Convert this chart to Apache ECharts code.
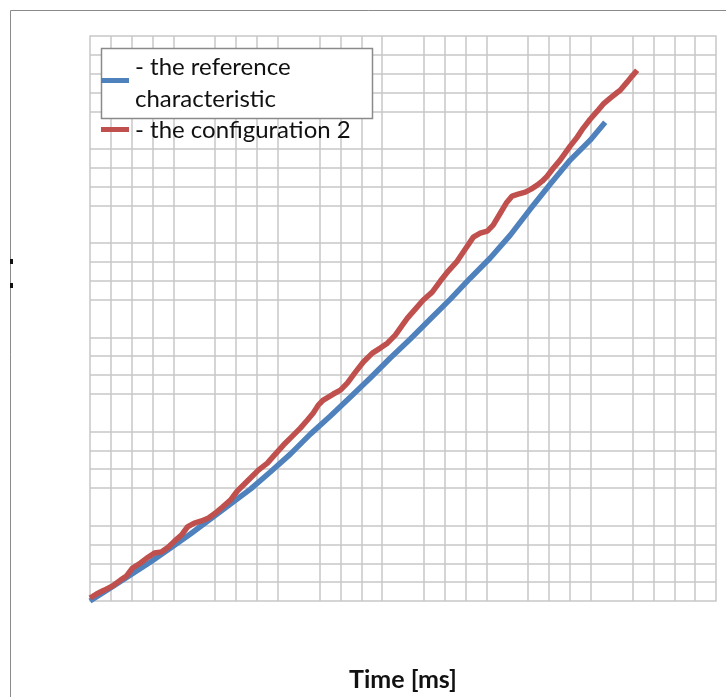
<!DOCTYPE html>
<html>
<head>
<meta charset="utf-8">
<script src="https://cdn.jsdelivr.net/npm/echarts@6/dist/echarts.min.js"></script>
<style>
    html, body { margin: 0; padding: 0; background: #fff; }
    #chart { width: 726px; height: 697px; }
</style>
</head>
<body>
<div id="chart"></div>
<script>
// series values (grid units, 30 x 30 minor cells)
var refX = [0, 0.98, 1.94, 2.90, 3.86, 4.81, 5.77, 6.73, 7.69, 8.64, 9.60, 10.56, 11.52, 12.48, 13.43,
    14.39, 15.35, 16.31, 17.27, 18.22, 19.18, 20.14, 21.10, 22.05, 23.01, 23.97, 24.69];
var refY = [0, 0.69, 1.38, 2.07, 2.81, 3.56, 4.35, 5.15, 5.94, 6.85, 7.80, 8.86, 9.82, 10.83, 11.84,
    12.90, 13.91, 14.97, 16.03, 17.14, 18.21, 19.43, 20.81, 22.13, 23.41, 24.47, 25.42];

var cfgX = [0, 0.31, 0.69, 1.08, 1.46, 1.75, 2.04, 2.42, 2.80, 3.09, 3.42, 3.76, 4.05, 4.38, 4.67,
    5.00, 5.34, 5.68, 6.01, 6.35, 6.73, 7.06, 7.40, 7.69, 8.07, 8.50, 8.88, 9.27, 9.65, 10.08,
    10.42, 10.70, 10.94, 11.18, 11.66, 12.00, 12.33, 12.72, 13.10, 13.53, 13.91, 14.25, 14.63, 14.97,
    15.21, 15.59, 15.97, 16.40, 16.79, 17.17, 17.60, 17.98, 18.37, 18.70, 19.04, 19.32, 19.66, 19.95,
    20.23, 20.52, 20.86, 21.14, 21.43, 21.67, 21.91, 22.20, 22.53, 22.77, 23.01, 23.35, 23.64, 23.97,
    24.31, 24.59, 24.93, 25.22, 25.41, 25.74, 25.98, 26.22];
var cfgY = [0.16, 0.37, 0.58, 0.80, 1.11, 1.33, 1.75, 2.02, 2.34, 2.55, 2.60, 2.87, 3.18, 3.50, 3.93,
    4.14, 4.25, 4.41, 4.67, 4.99, 5.36, 5.84, 6.21, 6.53, 6.95, 7.32, 7.80, 8.28, 8.70, 9.18,
    9.61, 9.98, 10.40, 10.67, 10.99, 11.20, 11.57, 12.15, 12.69, 13.16, 13.43, 13.69, 14.12, 14.65,
    15.02, 15.50, 15.98, 16.40, 16.99, 17.52, 18.05, 18.68, 19.32, 19.53, 19.64, 19.96, 20.59, 21.13,
    21.50, 21.60, 21.71, 21.87, 22.08, 22.29, 22.56, 22.98, 23.41, 23.78, 24.15, 24.63, 25.11, 25.58,
    26.01, 26.38, 26.70, 26.96, 27.12, 27.55, 27.87, 28.18];

var seriesNames = ['the reference characteristic', 'the configuration 2'];
var xTitle = 'Time [ms]';

function pairs(xs, ys) {
    var out = [];
    for (var i = 0; i < xs.length; i++) {
        out.push([xs[i], ys[i]]);
    }
    return out;
}

let chart = echarts.init(document.getElementById('chart'));

var gridColor = '#c8c8c8';
var legendFont = '24px Lato';

//shared axis look: only minor lines, no labels
function axis(extra) {
    var a = {
        type: 'value',
        min: 0,
        max: 30,
        interval: 5,
        axisLine: { show: false },
        axisTick: { show: false },
        axisLabel: { show: false },
        splitLine: { show: false },
        minorTick: { show: false, splitNumber: 5 },
        minorSplitLine: {
            show: true,
            lineStyle: { color: gridColor, width: 1.5 }
        }
    };
    for (var k in extra) a[k] = extra[k];
    return a;
}

var option = {
    animation: false,
    backgroundColor: '#fff',
    grid: {
        left: 90,
        top: 36,
        width: 626,
        height: 565,
        outerBoundsMode: 'none',
        containLabel: false,
        show: true,
        borderColor: gridColor,
        borderWidth: 1.5
    },
    xAxis: axis({
        name: xTitle,
        nameLocation: 'middle',
        nameGap: 66,
        nameTextStyle: {
            fontFamily: 'Lato',
            fontWeight: 'bold',
            fontSize: 25,
            color: '#111'
        }
    }),
    yAxis: axis({}),
    series: [
        {
            name: seriesNames[0],
            type: 'line',
            showSymbol: false,
            data: pairs(refX, refY),
            lineStyle: { color: '#4f81bd', width: 5.5 },
            z: 2
        },
        {
            name: seriesNames[1],
            type: 'line',
            showSymbol: false,
            data: pairs(cfgX, cfgY),
            lineStyle: { color: '#c0504d', width: 5.5 },
            z: 3
        }
    ],
    graphic: [
        //outer frame, cut off on the right and bottom
        {
            type: 'rect',
            z: 100,
            silent: true,
            shape: { x: 10.5, y: 10.5, width: 900, height: 900 },
            style: { fill: null, stroke: '#8a8a8a', lineWidth: 1 }
        },
        //bits of the clipped y title
        { type: 'rect', z: 100, shape: { x: 10, y: 259, width: 3, height: 5 }, style: { fill: '#111' } },
        { type: 'rect', z: 100, shape: { x: 10, y: 283, width: 3, height: 5 }, style: { fill: '#111' } },
        //legend box
        {
            type: 'rect',
            z: 100,
            shape: { x: 101.5, y: 48.5, width: 271, height: 70 },
            style: { fill: '#fff', stroke: '#8a8a8a', lineWidth: 1.5 }
        },
        {
            type: 'line',
            z: 101,
            shape: { x1: 101, y1: 80.5, x2: 129, y2: 80.5 },
            style: { stroke: '#4f81bd', lineWidth: 5 }
        },
        {
            type: 'line',
            z: 101,
            shape: { x1: 101, y1: 129.5, x2: 129, y2: 129.5 },
            style: { stroke: '#c0504d', lineWidth: 5 }
        },
        {
            type: 'text',
            z: 101,
            x: 135,
            y: 67,
            style: { text: '- the reference', font: legendFont, fill: '#111', verticalAlign: 'middle' }
        },
        {
            type: 'text',
            z: 101,
            x: 135,
            y: 99,
            style: { text: 'characteristic', font: legendFont, fill: '#111', verticalAlign: 'middle' }
        },
        {
            type: 'text',
            z: 101,
            x: 135,
            y: 130,
            style: { text: '- ' + seriesNames[1], font: legendFont, fill: '#111', verticalAlign: 'middle' }
        }
    ]
};

chart.setOption(option);

window.addEventListener('resize', function () {
    chart.resize();
});
</script>
</body>
</html>
